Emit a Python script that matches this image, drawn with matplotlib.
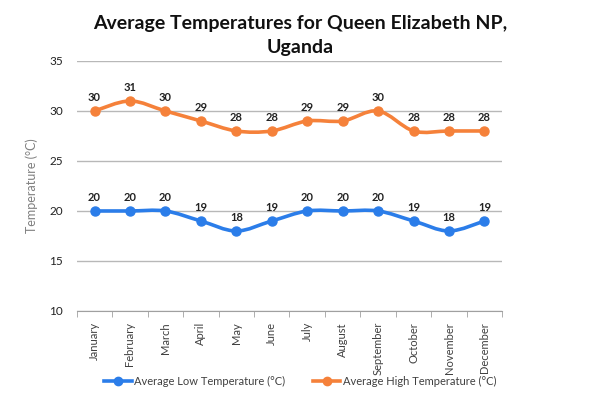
import matplotlib.pyplot as plt
import numpy as np
from matplotlib.path import Path
from matplotlib.patches import PathPatch
from matplotlib.lines import Line2D

months = ["January", "February", "March", "April", "May", "June", "July",
          "August", "September", "October", "November", "December"]
low_temps = [20, 20, 20, 19, 18, 19, 20, 20, 20, 19, 18, 19]
high_temps = [30, 31, 30, 29, 28, 28, 29, 29, 30, 28, 28, 28]

BLUE = "#2b7de9"
ORANGE = "#f5813a"

plt.rcParams["font.family"] = ["Lato", "DejaVu Sans"]


def smooth_path(xs, ys, tension=0.5):
    # Catmull-Rom style bezier control points, like Excel's smoothed line
    pts = np.column_stack([xs, ys]).astype(float)
    verts = [pts[0]]
    codes = [Path.MOVETO]
    n = len(pts)
    for i in range(n - 1):
        p0 = pts[i - 1] if i > 0 else pts[i]
        p1 = pts[i]
        p2 = pts[i + 1]
        p3 = pts[i + 2] if i + 2 < n else pts[i + 1]
        c1 = p1 + (p2 - p0) * tension / 3
        c2 = p2 - (p3 - p1) * tension / 3
        verts += [c1, c2, p2]
        codes += [Path.CURVE4] * 3
    return Path(verts, codes)


fig = plt.figure(figsize=(6, 3.99), dpi=100)
ax = fig.add_axes([0.128, 0.2206, 0.709, 0.6266])

x = np.arange(len(months))
for vals, color in [(low_temps, BLUE), (high_temps, ORANGE)]:
    ax.add_patch(PathPatch(smooth_path(x, vals), facecolor="none",
                           edgecolor=color, lw=2.6, zorder=3))
    ax.plot(x, vals, "o", color=color, ms=6.5, zorder=4)
    for xi, v in zip(x, vals):
        ax.annotate(str(v), (xi, v), xytext=(0, 6), textcoords="offset points",
                    ha="center", va="bottom", fontsize=8, fontweight="bold",
                    color="#222222")

ax.set_xlim(-0.5, len(months) - 0.5)
ax.set_ylim(10, 35)
ax.set_yticks(range(10, 36, 5))
ax.set_xticks(x)
ax.set_xticklabels(months, rotation=90, fontsize=8, color="#404040")
ax.set_xticks(np.arange(-0.5, len(months)), minor=True)
ax.tick_params(axis="x", which="major", length=0, pad=8)
ax.tick_params(axis="x", which="minor", length=4, color="#a0a0a0")
ax.tick_params(axis="y", length=0, labelsize=8.5, labelcolor="#222222", pad=10)
ax.grid(axis="y", color="#b8b8b8", lw=1)
ax.set_axisbelow(True)
for s in ["top", "right", "left"]:
    ax.spines[s].set_visible(False)
ax.spines["bottom"].set_color("#a0a0a0")
ax.set_ylabel("Temperature (°C)", fontsize=9, color="#808080", labelpad=8)

fig.text(0.5, 0.912, "Average Temperatures for Queen Elizabeth NP,\nUganda",
         ha="center", va="center", fontsize=14, fontweight="bold",
         linespacing=1.5, color="#111111")

handles = [Line2D([0], [0], color=BLUE, lw=2.6, marker="o", ms=6),
           Line2D([0], [0], color=ORANGE, lw=2.6, marker="o", ms=6)]
fig.legend(handles, ["Average Low Temperature (°C)", "Average High Temperature (°C)"],
           loc="center", bbox_to_anchor=(0.5, 0.045), ncol=2, frameon=False,
           fontsize=8, handlelength=2.5, columnspacing=2.5,
           labelcolor="#404040", handletextpad=0.2)

fig.savefig("out.png", dpi=100)
